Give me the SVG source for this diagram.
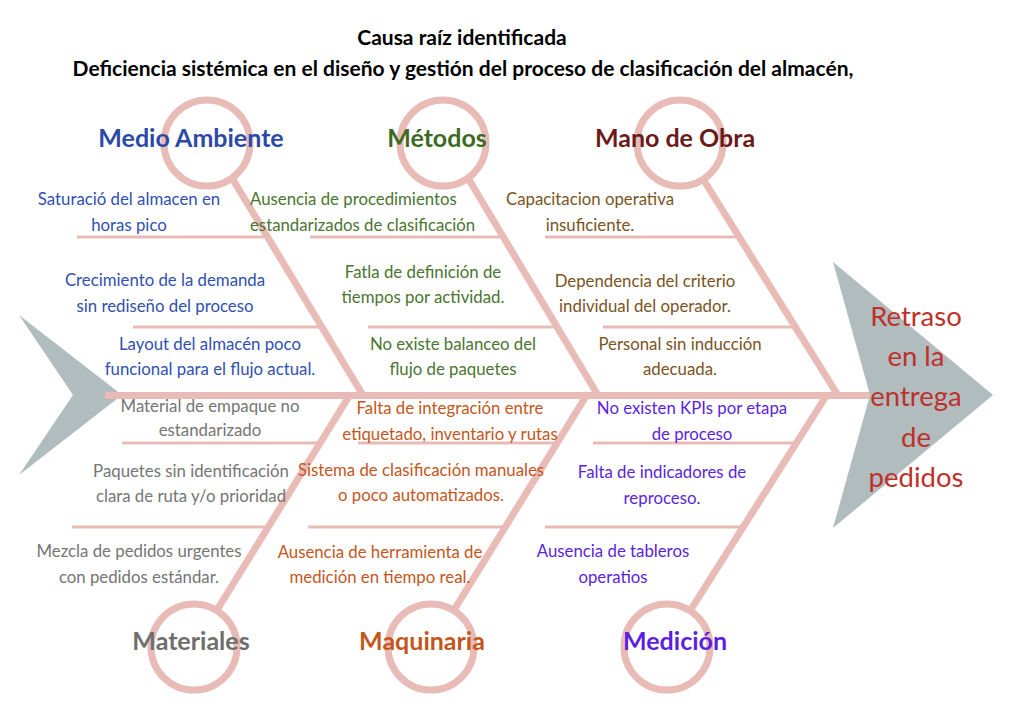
<svg xmlns="http://www.w3.org/2000/svg" width="1028" height="728" viewBox="0 0 1028 728">
<style>
.bg{fill:#ffffff}
.sub{stroke:#e8bbb7;stroke-width:3;fill:none}
.bone{stroke:#e8bbb7;stroke-width:7;fill:none}
.ring{stroke:#e8bbb7;stroke-width:7;fill:none}
.arrow{fill:#b1bcbe}
text{font-family:Lato,"Liberation Sans",sans-serif;text-anchor:middle}
.title{font-size:21px;font-weight:bold;fill:#000}
.cat{font-size:25px;font-weight:bold}
.c{font-size:16.8px}
.eff{font-size:27.5px;fill:#c0302a}
.ma{fill:#2a4aa5}
.me{fill:#3c6a22}
.mo{fill:#6b1a1a}
.mt{fill:#6e6e6e}
.mq{fill:#c4561c}
.md{fill:#5b1fe0}
.tma{fill:#3050b0}
.tme{fill:#4a7530}
.tmo{fill:#7a5422}
.tmt{fill:#757575}
.tmq{fill:#c4561c}
.tmd{fill:#5b1fe0}
</style>
<rect class="bg" x="0" y="0" width="1028" height="728"/>
<g id="tail">
<polygon class="arrow" points="19,315 122,395 19,475 73,395"/>
</g>
<g id="connectors">
<line class="sub" x1="77" y1="237" x2="264" y2="237"/>
<line class="sub" x1="310" y1="237" x2="500" y2="237"/>
<line class="sub" x1="545" y1="237" x2="738" y2="237"/>
<line class="sub" x1="133" y1="327" x2="319" y2="327"/>
<line class="sub" x1="368" y1="327" x2="555" y2="327"/>
<line class="sub" x1="603" y1="327" x2="795" y2="327"/>
<line class="sub" x1="122" y1="443" x2="318" y2="443"/>
<line class="sub" x1="358" y1="443" x2="555" y2="443"/>
<line class="sub" x1="593" y1="443" x2="796" y2="443"/>
<line class="sub" x1="72" y1="527" x2="267" y2="527"/>
<line class="sub" x1="308" y1="527" x2="504" y2="527"/>
<line class="sub" x1="545" y1="527" x2="743" y2="527"/>
<line class="bone" x1="232" y1="178" x2="364" y2="397"/>
<line class="bone" x1="468" y1="178" x2="599" y2="397"/>
<line class="bone" x1="703" y1="179" x2="839" y2="397"/>
<line class="bone" x1="217" y1="610" x2="351" y2="393"/>
<line class="bone" x1="454" y1="610" x2="588" y2="393"/>
<line class="bone" x1="690" y1="611" x2="828" y2="393"/>
<line class="bone" x1="105" y1="395.5" x2="880" y2="395.5"/>
</g>
<g id="head">
<polygon class="arrow" points="833,262 993,395 833,528 870,395"/>
<text class="eff" x="916" y="326">Retraso</text>
<text class="eff" x="916" y="366">en la</text>
<text class="eff" x="916" y="406">entrega</text>
<text class="eff" x="916" y="447">de</text>
<text class="eff" x="916" y="487">pedidos</text>
</g>
<g id="title">
<text class="title" x="462" y="45">Causa raíz identificada</text>
<text class="title" x="463" y="76">Deficiencia sistémica en el diseño y gestión del proceso de clasificación del almacén,</text>
</g>
<g id="medio-ambiente">
<circle class="ring" cx="207" cy="143" r="43"/>
<text class="cat ma" x="191" y="147">Medio Ambiente</text>
<text class="c tma" x="129" y="205">Saturació del almacen en</text>
<text class="c tma" x="129" y="231">horas pico</text>
<text class="c tma" x="165" y="286">Crecimiento de la demanda</text>
<text class="c tma" x="165" y="312">sin rediseño del proceso</text>
<text class="c tma" x="210" y="350">Layout del almacén poco</text>
<text class="c tma" x="210" y="375">funcional para el flujo actual.</text>
</g>
<g id="metodos">
<circle class="ring" cx="443" cy="143" r="43"/>
<text class="cat me" x="437" y="147">Métodos</text>
<text class="c tme" x="250" y="205" style="text-anchor:start">Ausencia de procedimientos</text>
<text class="c tme" x="250" y="231" style="text-anchor:start">estandarizados de clasificación</text>
<text class="c tme" x="423" y="278">Fatla de definición de</text>
<text class="c tme" x="423" y="303">tiempos por actividad.</text>
<text class="c tme" x="453" y="350">No existe balanceo del</text>
<text class="c tme" x="453" y="375">flujo de paquetes</text>
</g>
<g id="mano-de-obra">
<circle class="ring" cx="680" cy="143" r="43"/>
<text class="cat mo" x="675" y="147">Mano de Obra</text>
<text class="c tmo" x="590" y="205">Capacitacion operativa</text>
<text class="c tmo" x="590" y="231">insuficiente.</text>
<text class="c tmo" x="645" y="287">Dependencia del criterio</text>
<text class="c tmo" x="645" y="312">individual del operador.</text>
<text class="c tmo" x="680" y="350">Personal sin inducción</text>
<text class="c tmo" x="680" y="375">adecuada.</text>
</g>
<g id="materiales">
<circle class="ring" cx="194" cy="647" r="43"/>
<text class="cat mt" x="191" y="650">Materiales</text>
<text class="c tmt" x="210" y="412">Material de empaque no</text>
<text class="c tmt" x="210" y="436">estandarizado</text>
<text class="c tmt" x="191" y="477">Paquetes sin identificación</text>
<text class="c tmt" x="191" y="502">clara de ruta y/o prioridad</text>
<text class="c tmt" x="139" y="557">Mezcla de pedidos urgentes</text>
<text class="c tmt" x="139" y="583">con pedidos estándar.</text>
</g>
<g id="maquinaria">
<circle class="ring" cx="431" cy="647" r="43"/>
<text class="cat mq" x="422" y="650">Maquinaria</text>
<text class="c tmq" x="450" y="414">Falta de integración entre</text>
<text class="c tmq" x="450" y="440">etiquetado, inventario y rutas</text>
<text class="c tmq" x="421" y="476">Sistema de clasificación manuales</text>
<text class="c tmq" x="421" y="501">o poco automatizados.</text>
<text class="c tmq" x="380" y="558">Ausencia de herramienta de</text>
<text class="c tmq" x="380" y="583">medición en tiempo real.</text>
</g>
<g id="medicion">
<circle class="ring" cx="667" cy="647" r="43"/>
<text class="cat md" x="675" y="650">Medición</text>
<text class="c tmd" x="692" y="414">No existen KPIs por etapa</text>
<text class="c tmd" x="692" y="440">de proceso</text>
<text class="c tmd" x="662" y="478">Falta de indicadores de</text>
<text class="c tmd" x="662" y="504">reproceso.</text>
<text class="c tmd" x="613" y="557">Ausencia de tableros</text>
<text class="c tmd" x="613" y="583">operatios</text>
</g>
</svg>
